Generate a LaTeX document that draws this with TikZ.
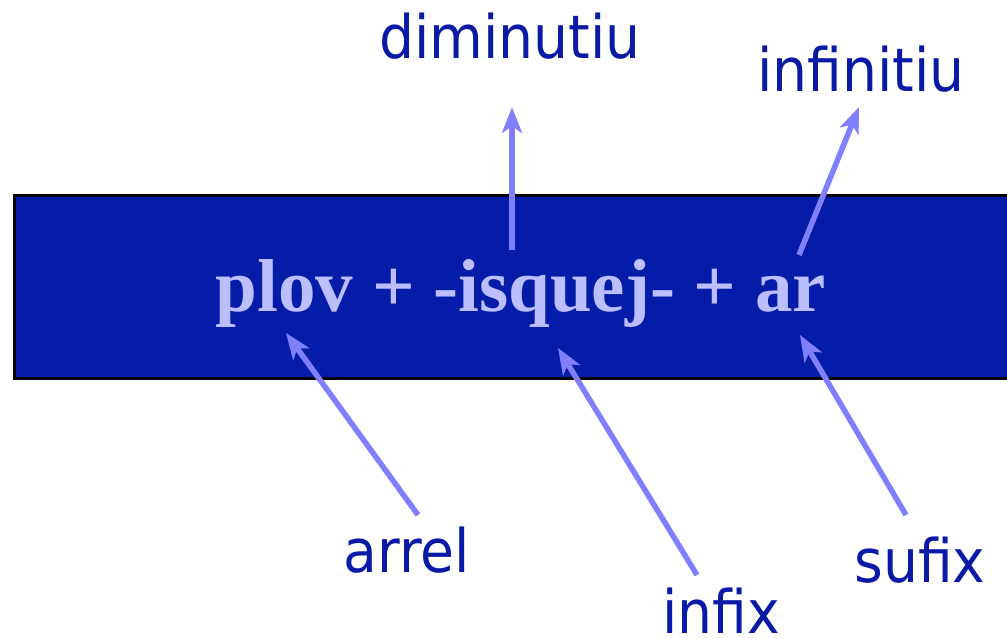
\documentclass[tikz,border=0pt]{standalone}
\usepackage{fontspec}
\setmainfont{Liberation Serif}
\newfontfamily\lblfont{DejaVu Sans}
\usetikzlibrary{arrows.meta}
\definecolor{boxblue}{RGB}{4,28,168}
\definecolor{boxtext}{RGB}{187,190,255}
\definecolor{arrowblue}{RGB}{128,128,255}
\definecolor{lblblue}{RGB}{10,26,166}
\tikzset{
  lbl/.style={anchor=base, text=lblblue, inner sep=0pt, font=\lblfont\fontsize{60}{60}\selectfont},
  ptr/.style={draw=arrowblue, line width=5.5pt, -{Stealth[length=26pt,width=20pt,inset=7pt]}},
}
\begin{document}
\begin{tikzpicture}[x=1pt,y=-1pt]
\useasboundingbox (0,0) rectangle (1007,639);
\fill[white] (0,0) rectangle (1007,639);
\node[draw=black, line width=3pt, fill=boxblue, minimum width=1000pt, minimum height=183pt, anchor=north west, inner sep=0pt] (box) at (13,194) {};
\node[anchor=base, text=boxtext, inner sep=0pt, font=\bfseries\fontsize{75}{75}\selectfont] (word) at (521,312) {plov + -isquej- + ar};
\node[lbl] (dim) at (510,59) {\scalebox{0.92}[1]{diminutiu}};
\node[lbl] (inf) at (861,92) {\scalebox{0.92}[1]{infinitiu}};
\node[lbl] (arr) at (407,572) {\scalebox{0.92}[1]{arrel}};
\node[lbl] (ifx) at (721,633) {\scalebox{0.92}[1]{infix}};
\node[lbl] (suf) at (920,582) {\scalebox{0.92}[1]{sufix}};
\coordinate (t1) at (512,250); \coordinate (h1) at (512,107);
\coordinate (t2) at (799,255); \coordinate (h2) at (859,107);
\coordinate (t3) at (418,515); \coordinate (h3) at (286,333);
\coordinate (t4) at (697,575); \coordinate (h4) at (558,348);
\coordinate (t5) at (906,515); \coordinate (h5) at (800,335);
\draw[ptr] (t1) -- (h1);
\draw[ptr] (t2) -- (h2);
\draw[ptr] (t3) -- (h3);
\draw[ptr] (t4) -- (h4);
\draw[ptr] (t5) -- (h5);
\end{tikzpicture}
\end{document}
